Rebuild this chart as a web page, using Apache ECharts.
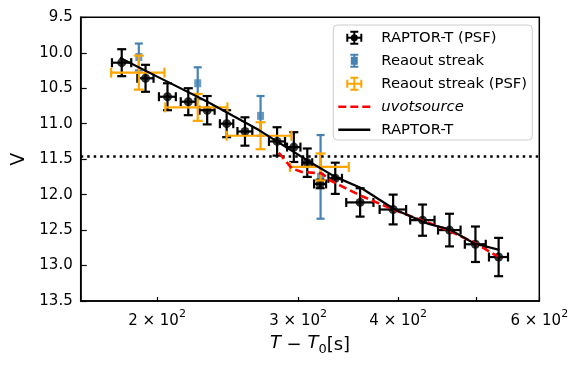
<!DOCTYPE html>
<html>
<head>
<meta charset="utf-8">
<script src="https://cdn.jsdelivr.net/npm/echarts@6/dist/echarts.min.js"></script>
<style>html,body{margin:0;padding:0;background:#fff}#c{width:582px;height:365px}</style>
</head>
<body>
<div id="c"></div>
<script>
// ---- data (time in s, magnitude V) ----
const rapT    = [180.7,193.5,206.1,218.8,231.0,244.3,257.5,282.4,296.3,308.0,319.6,333.8,358.5,394.2,429.0,463.5,499.4,533.8];
const rapV    = [10.14,10.36,10.62,10.69,10.81,11.00,11.11,11.25,11.33,11.55,11.85,11.77,12.11,12.21,12.36,12.50,12.70,12.88];
const rapTerr = [5,4.5,5,4.7,5,4.7,5.5,6.5,5.7,4.4,5.5,6.5,14,15,15,15,15,14.6];
const rapVerr = [0.19,0.19,0.19,0.19,0.2,0.19,0.2,0.2,0.21,0.2,0.06,0.22,0.2,0.21,0.22,0.23,0.25,0.27];

const rosT    = [189.8,224.8,269.3,320.0];
const rosV    = [10.06,10.43,10.89,11.75];
const rosVerr = [0.19,0.225,0.28,0.59];

const rpsT    = [189.8,224.8,269.3,320.0];
const rpsV    = [10.28,10.77,11.17,11.61];
const rpsTerr = [14.5,20,25,27];
const rpsVerr = [0.24,0.19,0.19,0.19];

const uvT = [283.8,294.6,303.2,320.9,330.2,359.9,396.4,427.1,461.3,498.3,532.2];
const uvV = [11.41,11.63,11.68,11.70,11.81,12.02,12.22,12.36,12.50,12.68,12.87];

const rtT = [179.7,200.4,230.2,268.0,311.8,333.8,360.1,396.0,435.7,463.5,497.8,534.8];
const rtV = [10.07,10.34,10.68,11.09,11.555,11.75,11.91,12.21,12.41,12.49,12.69,12.78];

const refLevel = 11.456;
const xMin = 160.6, xMax = 600;
const xTickVals  = [200,300,400,500,600];
const xLabelVals = [200,300,400,600];
const yMin = 9.5, yMax = 13.5, yStep = 0.5;

// ---- helpers ----
const lg = Math.log10;
function errData(T, V, Terr, Verr) {
  return T.map((t, i) => {
    const te = Terr ? Terr[i] : 0;
    return [lg(t), V[i], lg(t - te), lg(t + te), V[i] - Verr[i], V[i] + Verr[i]];
  });
}
function errRender(color, lw, cap, hasX) {
  return function (params, api) {
    const x = api.value(0), y = api.value(1);
    const c = api.coord([x, y]);
    const lo = api.coord([x, api.value(4)]), hi = api.coord([x, api.value(5)]);
    const st = {stroke: color, lineWidth: lw};
    const ch = [
      {type:'line', shape:{x1:c[0], y1:lo[1], x2:c[0], y2:hi[1]}, style:st},
      {type:'line', shape:{x1:c[0]-cap, y1:lo[1], x2:c[0]+cap, y2:lo[1]}, style:st},
      {type:'line', shape:{x1:c[0]-cap, y1:hi[1], x2:c[0]+cap, y2:hi[1]}, style:st}
    ];
    if (hasX) {
      const l = api.coord([api.value(2), y]), r = api.coord([api.value(3), y]);
      ch.push({type:'line', shape:{x1:l[0], y1:c[1], x2:r[0], y2:c[1]}, style:st});
      ch.push({type:'line', shape:{x1:l[0], y1:c[1]-cap, x2:l[0], y2:c[1]+cap}, style:st});
      ch.push({type:'line', shape:{x1:r[0], y1:c[1]-cap, x2:r[0], y2:c[1]+cap}, style:st});
    }
    return {type:'group', children: ch};
  };
}
const pts = (T, V) => T.map((t, i) => [lg(t), V[i]]);

const BLUE = '#4682b4', ORANGE = '#ffa500';
const FONT = 'DejaVu Sans';

const crossIcon = 'path://M7,0H9V14H7Z M4,0H12V2H4Z M4,12H12V14H4Z M0,6H16V8H0Z M0,3H2V11H0Z M14,3H16V11H14Z';
const blackIcon = crossIcon + ' M4.5,7A3.5,3.5 0 1 1 11.5,7A3.5,3.5 0 1 1 4.5,7Z';
const blueIcon = 'path://M3,0H5V14H3Z M0,0H8V2H0Z M0,12H8V14H0Z M0.5,3H7.5V11H0.5Z';
const dashIcon = 'path://M0,0H8V2.6H0Z M12,0H20V2.6H12Z M24,0H32V2.6H24Z';
const lineIcon = 'path://M0,0H32V2.6H0Z';

const chart = echarts.init(document.getElementById('c'), null, {renderer:'canvas'});
chart.setOption({
  animation: false,
  textStyle: {fontFamily: FONT},
  grid: {left: 80.7, right: 42.7, top: 17.3, bottom: 64, show: true, borderColor: '#000', borderWidth: 1.5, backgroundColor: 'transparent'},
  graphic: [{
    type: 'rect', z: 3, silent: true,
    shape: {x: 333.3, y: 25, width: 199, height: 115, r: 4},
    style: {fill: 'rgba(255,255,255,0.85)', stroke: '#cccccc', lineWidth: 1}
  }],
  legend: {
    orient: 'vertical', left: 338.3, top: 30.3, padding: 0, z: 5,
    itemWidth: 32, itemHeight: 14, itemGap: 8,
    selectedMode: false,
    textStyle: {fontFamily: FONT, fontSize: 14.8, color: '#000', padding: [0,0,0,6]},
    data: [
      {name: 'RAPTOR-T (PSF)', icon: blackIcon, itemStyle: {color: '#000'}},
      {name: 'Reaout streak', icon: blueIcon, itemStyle: {color: BLUE}},
      {name: 'Reaout streak (PSF)', icon: crossIcon, itemStyle: {color: ORANGE}},
      {name: 'uvotsource', icon: dashIcon, itemStyle: {color: 'red'}, textStyle: {fontStyle: 'italic'}},
      {name: 'RAPTOR-T', icon: lineIcon, itemStyle: {color: '#000'}}
    ]
  },
  xAxis: {
    type: 'value', min: lg(xMin), max: lg(xMax),
    name: '{it|T} − {it|T}{sub|0}[s]', nameLocation: 'middle', nameGap: 26,
    nameTextStyle: {fontFamily: FONT, fontSize: 18, color: '#000', rich: {
      it: {fontFamily: FONT, fontSize: 18, fontStyle: 'italic', color: '#000', lineHeight: 22, verticalAlign: 'top'},
      sub: {fontFamily: FONT, fontSize: 13, color: '#000', lineHeight: 13, verticalAlign: 'bottom'}}},
    axisLine: {show: true, lineStyle: {color: '#000', width: 1.5}},
    axisTick: {show: true, inside: true, length: 4, lineStyle: {color: '#000', width: 1.2}, customValues: xTickVals.map(lg)},
    axisLabel: {show: true, margin: 8, fontFamily: FONT, fontSize: 15, color: '#000', customValues: xLabelVals.map(lg),
      formatter: v => '{n|' + (Math.round(Math.pow(10, v)) / 100) + ' × 10}{s|2}',
      rich: {
        n: {fontFamily: FONT, fontSize: 15, color: '#000', lineHeight: 20, verticalAlign: 'bottom'},
        s: {fontFamily: FONT, fontSize: 11, color: '#000', lineHeight: 11, verticalAlign: 'top'}
      }},
    splitLine: {show: false}
  },
  yAxis: {
    type: 'value', inverse: true, min: yMin, max: yMax, interval: yStep,
    name: 'V', nameLocation: 'middle', nameGap: 52, nameRotate: 90,
    nameTextStyle: {fontFamily: FONT, fontSize: 19, color: '#000'},
    axisLine: {show: true, lineStyle: {color: '#000', width: 1.5}},
    axisTick: {show: true, inside: true, length: 6, lineStyle: {color: '#000', width: 1.2}},
    axisLabel: {margin: 8, fontFamily: FONT, fontSize: 15, color: '#000', formatter: v => v.toFixed(1)},
    splitLine: {show: false}
  },
  series: [
    {name: 'Reaout streak', type: 'custom', z: 2, renderItem: errRender(BLUE, 2.2, 4, false),
      encode: {x: [0,2,3], y: [1,4,5]}, data: errData(rosT, rosV, null, rosVerr)},
    {name: 'Reaout streak', type: 'scatter', z: 2, symbol: 'rect', symbolSize: [7,8], itemStyle: {color: BLUE},
      data: pts(rosT, rosV)},
    {name: 'RAPTOR-T (PSF)', type: 'custom', z: 3, renderItem: errRender('#000', 2.2, 4.5, true),
      encode: {x: [0,2,3], y: [1,4,5]}, data: errData(rapT, rapV, rapTerr, rapVerr)},
    {name: 'RAPTOR-T (PSF)', type: 'scatter', z: 3, symbol: 'circle', symbolSize: 9, itemStyle: {color: '#000'},
      data: pts(rapT, rapV)},
    {name: 'Reaout streak (PSF)', type: 'custom', z: 4, renderItem: errRender(ORANGE, 2.2, 5, true),
      encode: {x: [0,2,3], y: [1,4,5]}, data: errData(rpsT, rpsV, rpsTerr, rpsVerr)},
    {name: 'uvotsource', type: 'line', z: 5, symbol: 'none', lineStyle: {color: 'red', width: 2.6, type: [8,4]},
      data: pts(uvT, uvV)},
    {name: 'RAPTOR-T', type: 'line', z: 6, symbol: 'none', lineStyle: {color: '#000', width: 2.2},
      data: pts(rtT, rtV),
      markLine: {silent: true, symbol: 'none', label: {show: false},
        lineStyle: {color: '#000', width: 2.5, type: [2.5, 4], cap: 'butt'},
        data: [{yAxis: refLevel}]}}
  ]
});
</script>
</body>
</html>
